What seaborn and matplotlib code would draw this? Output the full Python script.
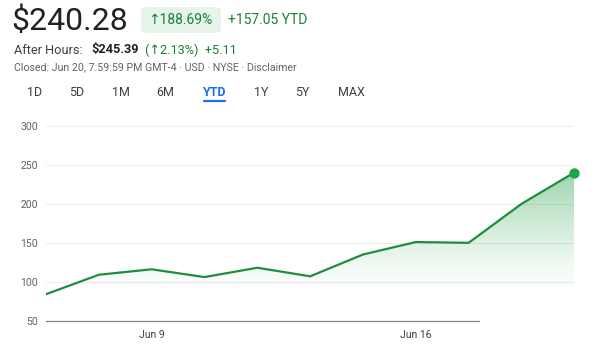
import numpy as np
import pandas as pd
import matplotlib
matplotlib.use("Agg")
import matplotlib.pyplot as plt
from matplotlib.patches import FancyBboxPatch
import seaborn as sns

# closing prices, Jun 5 - Jun 20 (trading days)
days = ["Jun 5", "Jun 6", "Jun 9", "Jun 10", "Jun 11", "Jun 12", "Jun 13",
        "Jun 16", "Jun 17", "Jun 18", "Jun 20"]
prices = [84, 109, 116, 106, 118, 107, 135, 151, 150, 200, 240.28]
tick_days = ["Jun 9", "Jun 16"]
y_ticks = [50, 100, 150, 200, 250, 300]
tabs = ["1D", "5D", "1M", "6M", "YTD", "1Y", "5Y", "MAX"]
tab_x = [35, 77, 121, 165, 214, 261, 302, 351]

green = "#188038"
line_green = "#1e8e3e"
grey = "#5f6368"

sns.set_style("white")
plt.rcParams["font.family"] = ["Roboto", "DejaVu Sans"]

df = pd.DataFrame({"day": days, "price": prices})
df["i"] = range(len(df))

fig = plt.figure(figsize=(6, 3.52), dpi=100)
ax = fig.add_axes([46 / 600, 1 - 320.7 / 352, (574.3 - 46) / 600, (320.7 - 126) / 352])

sns.lineplot(data=df, x="i", y="price", ax=ax, color=line_green, lw=1.6, zorder=3)
ax.plot(df["i"].iloc[-1], df["price"].iloc[-1], "o", color="#1ea446", ms=6.5,
        clip_on=False, zorder=4)

# gradient fill under the line
poly = ax.fill_between(df["i"], df["price"], 50, color="none", lw=0)
grad = np.zeros((256, 1, 4))
rgb = matplotlib.colors.to_rgb("#34a853")
grad[:, 0, :3] = rgb
yy = np.linspace(300, 50, 256)
grad[:, 0, 3] = np.clip((yy - 85) / (245 - 85), 0, 1) ** 1.3 * 0.5
img = ax.imshow(grad, extent=[0, 10, 50, 300], aspect="auto", zorder=1,
                interpolation="bilinear")
path = poly.get_paths()[0]
img.set_clip_path(path, transform=ax.transData)

ax.set_xlim(0, 10)
ax.set_ylim(50, 300)
ax.set_yticks(y_ticks)
ax.set_yticklabels([str(v) for v in y_ticks])
ax.set_xticks([days.index(d) for d in tick_days])
ax.set_xticklabels(tick_days)
ax.set_xlabel("")
ax.set_ylabel("")
for y in y_ticks[1:]:
    ax.axhline(y, color="#ebedef", lw=0.8, zorder=0)
for s in ["top", "right", "left"]:
    ax.spines[s].set_visible(False)
ax.spines["bottom"].set_color("#80868b")
ax.spines["bottom"].set_linewidth(0.9)
ax.spines["bottom"].set_bounds(0, 8.2)
ax.tick_params(axis="y", length=0, pad=6, labelsize=7.5, labelcolor=grey)
ax.tick_params(axis="x", length=3, width=1, color="#3c4043", pad=4,
               labelsize=7.5, labelcolor="#3c4043", direction="out")

# header
def px(x, y):
    return x / 600, 1 - y / 352

fig.text(*px(11, 21), "$240.28", fontsize=23, color="#202124", va="center")
pill = FancyBboxPatch(px(141, 33), 80 / 600, 26 / 352,
                      boxstyle="round,pad=0,rounding_size=0.012",
                      transform=fig.transFigure, fc="#e6f4ea", ec="none")
fig.patches.append(pill)
fig.text(*px(148, 20.5), "↑188.69%", fontsize=10, color=green, va="center")
fig.text(*px(228, 20.5), "+157.05 YTD", fontsize=10, color=green, va="center")

fig.text(*px(14, 50), "After Hours:", fontsize=9.2, color="#3c4043", va="center")
fig.text(*px(91, 50), "$245.39", fontsize=9.2, color="#202124",
         fontweight="bold", va="center")
fig.text(*px(145, 50), "(↑2.13%)  +5.11", fontsize=9.2, color=green, va="center")
fig.text(*px(14, 67), "Closed: Jun 20, 7:59:59 PM GMT-4 · USD · NYSE · Disclaimer",
         fontsize=7.7, color=grey, va="center")

for t, x in zip(tabs, tab_x):
    c = "#1a73e8" if t == "YTD" else "#3c4043"
    fig.text(*px(x, 92), t, fontsize=9, color=c, ha="center", va="center",
             fontweight="bold" if t == "YTD" else "normal")
fig.add_artist(plt.Line2D([204 / 600, 225 / 600], [1 - 101 / 352] * 2,
                          color="#1a73e8", lw=1.6, transform=fig.transFigure))

fig.savefig("out.png", dpi=100)
